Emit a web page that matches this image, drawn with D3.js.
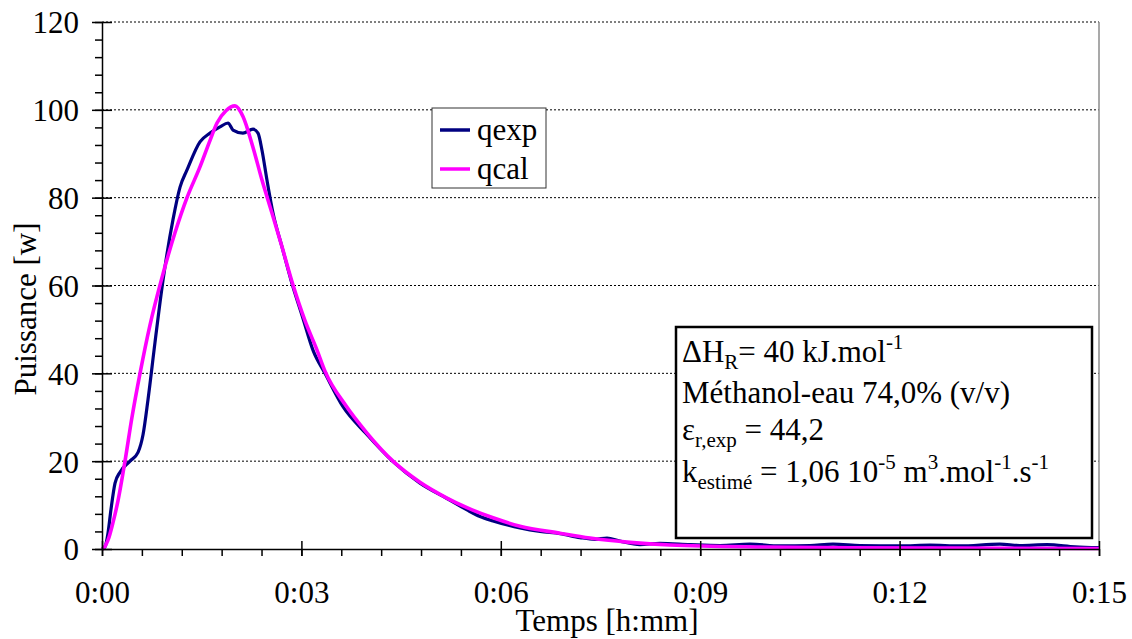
<!DOCTYPE html>
<html>
<head>
<meta charset="utf-8">
<script src="https://cdn.jsdelivr.net/npm/d3@7"></script>
<style>
  html, body { margin: 0; padding: 0; background: #fff; }
  svg { display: block; }
  svg text { font-family: "Liberation Serif", "Times New Roman", Times, serif; }
</style>
</head>
<body>
<svg id="chart" width="1132" height="639"></svg>
<script>
// ---- data (time in minutes, power in W) ----
const qexpTime = [0.000,0.045,0.090,0.135,0.196,0.271,0.421,0.542,0.617,0.692,0.797,0.918,1.068,1.174,1.279,1.474,1.625,1.775,1.896,1.971,2.121,2.272,2.347,2.407,2.482,2.573,2.708,2.844,3.024,3.174,3.355,3.626,3.972,4.378,4.784,5.190,5.491,5.687,5.883,6.289,6.590,6.891,7.191,7.417,7.598,7.793,8.094,8.395,8.847,9.298,9.749,10.200,10.652,10.998,11.404,12.006,12.457,12.908,13.510,13.811,14.218,14.639,15.000];
const qexpValues = [0,0.5,3.6,9,15,17.5,20,22,26,34,47,61.2,75,82.4,86.3,92.7,94.7,96.1,97,95.4,94.7,95.6,94.7,90.8,84,76.5,68.8,61.2,52.5,45.3,40,32.4,26.3,19.9,15,11.5,8.9,7.4,6.4,4.8,4.0,3.5,2.6,2.2,2.5,1.8,1.0,1.3,1.0,0.8,1.1,0.7,0.8,1.1,0.8,0.7,0.9,0.7,1.1,0.8,1.0,0.5,0.3];
const qcalTime = [0.000,0.030,0.090,0.165,0.241,0.346,0.451,0.572,0.722,0.888,1.098,1.279,1.474,1.624,1.730,1.865,2.001,2.121,2.271,2.407,2.557,2.708,2.874,3.054,3.235,3.355,3.671,3.987,4.378,4.784,5.190,5.491,5.883,6.289,6.891,7.342,7.944,8.546,9.900,11.254,12.758,15.000];
const qcalValues = [0,0.3,2,6,11,20,30,40,51,61,72,80,87,93,97,99.8,100.9,98.5,91.5,84,76.5,68.8,60.1,52,45.3,40.5,32.6,26.4,20,15.2,11.6,9.4,7.1,5.2,3.6,2.5,1.5,0.9,0.45,0.3,0.2,0.1];
const xTickMinutes = [0,3,6,9,12,15];
const xTickLabels = ["0:00","0:03","0:06","0:09","0:12","0:15"];
const yTickValues = [0,20,40,60,80,100,120];
const seriesNames = ["qexp","qcal"];
const seriesColors = ["#000080","#FF00FF"];
const xTitle = "Temps [h:mm]";
const yTitle = "Puissance [w]";

// ---- layout ----
const FF = "'Liberation Serif', 'Times New Roman', Times, serif";
const svg = d3.select("#chart").attr("font-family", FF);
const x = d3.scaleLinear().domain([0,15]).range([102,1099]);
const y = d3.scaleLinear().domain([0,120]).range([549,22]);
const FONT = 31;

// gridlines (dotted)
svg.append("g").selectAll("line").data(yTickValues.filter(d => d > 0)).join("line")
  .attr("x1", x(0)).attr("x2", x(15))
  .attr("y1", d => y(d)).attr("y2", d => y(d))
  .attr("stroke", "#000").attr("stroke-width", 1).attr("stroke-dasharray", "2,2");

// right border (grey)
svg.append("line").attr("x1", x(15)).attr("x2", x(15)).attr("y1", y(120)).attr("y2", y(0))
  .attr("stroke", "#8c8c8c").attr("stroke-width", 1.5);

// series
const line = d3.line().x(d => x(d[0])).y(d => y(d[1])).curve(d3.curveMonotoneX);
const qexp = qexpTime.map((t,i) => [t, qexpValues[i]]);
const qcal = qcalTime.map((t,i) => [t, qcalValues[i]]);
svg.append("path").datum(qexp).attr("d", line).attr("fill","none")
  .attr("stroke", seriesColors[0]).attr("stroke-width", 3.2).attr("stroke-linejoin","round");
svg.append("path").datum(qcal).attr("d", line).attr("fill","none")
  .attr("stroke", seriesColors[1]).attr("stroke-width", 3.6).attr("stroke-linejoin","round");

// X axis
const xMinor = d3.range(0, 15.001, 0.6);
const gx = svg.append("g").attr("transform", `translate(0,${y(0)})`);
gx.call(d3.axisBottom(x).tickValues(xMinor).tickSize(7).tickFormat("").tickSizeOuter(0));
gx.call(g => g.select(".domain").remove());
const gx2 = svg.append("g").attr("transform", `translate(0,${y(0)})`);
gx2.call(d3.axisBottom(x).tickValues(xTickMinutes).tickSizeInner(-8).tickSizeOuter(0)
  .tickFormat((d,i) => xTickLabels[i]));
gx2.attr("font-family", FF);
gx2.selectAll(".tick line").clone().attr("y2", 7);
gx2.selectAll("text").attr("y", 54).attr("dy", 0)
  .attr("font-size", FONT).attr("fill", "#000");

// Y axis
const yMinor = d3.range(0, 120.001, 4);
const gy = svg.append("g").attr("transform", `translate(${x(0)},0)`);
gy.call(d3.axisLeft(y).tickValues(yMinor).tickSize(7).tickFormat("").tickSizeOuter(0));
gy.call(g => g.select(".domain").remove());
const gy2 = svg.append("g").attr("transform", `translate(${x(0)},0)`);
gy2.call(d3.axisLeft(y).tickValues(yTickValues).tickSizeInner(10).tickSizeOuter(0));
gy2.attr("font-family", FF);
gy2.selectAll(".tick line").clone().attr("x2", 10);
gy2.selectAll("text").attr("x", -23).attr("dy", "0.35em")
  .attr("font-size", FONT).attr("fill", "#000");
svg.selectAll(".domain, .tick line").attr("stroke", "#000").attr("stroke-width", 1.5);

// axis titles
svg.append("text").attr("x", 607).attr("y", 631).attr("text-anchor", "middle")
  .attr("font-size", FONT).text(xTitle);
svg.append("text").attr("transform", "translate(36,309) rotate(-90)").attr("text-anchor", "middle")
  .attr("font-size", FONT).text(yTitle);

// legend
const lg = svg.append("g");
lg.append("rect").attr("x", 432).attr("y", 108).attr("width", 114).attr("height", 80)
  .attr("fill", "#fff").attr("stroke", "#333").attr("stroke-width", 1);
const legY = [130, 169];
seriesNames.forEach((n, i) => {
  lg.append("line").attr("x1", 440).attr("x2", 470).attr("y1", legY[i]).attr("y2", legY[i])
    .attr("stroke", seriesColors[i]).attr("stroke-width", 3.5);
  lg.append("text").attr("x", 477).attr("y", legY[i]).attr("dy", "0.33em")
    .attr("font-size", FONT).text(n);
});

// annotation box
const ab = svg.append("g");
ab.append("rect").attr("x", 676).attr("y", 327).attr("width", 416).attr("height", 211)
  .attr("fill", "#fff").attr("stroke", "#000").attr("stroke-width", 2.5);
const SUB = 21;
function richLine(yb, parts) {
  const t = ab.append("text").attr("x", 682).attr("y", yb).attr("font-size", FONT);
  let shift = 0;
  parts.forEach(p => {
    const target = p.sub ? 7 : (p.sup ? -13 : 0);
    t.append("tspan").attr("dy", target - shift)
      .attr("font-size", (p.sub || p.sup) ? SUB : FONT).text(p.t);
    shift = target;
  });
}
richLine(362, [{t:"ΔH"},{t:"R", sub:true},{t:"= 40 kJ.mol"},{t:"-1", sup:true}]);
richLine(403, [{t:"Méthanol-eau 74,0% (v/v)"}]);
richLine(440, [{t:"ε"},{t:"r,exp", sub:true},{t:" = 44,2"}]);
richLine(482, [{t:"k"},{t:"estimé", sub:true},{t:" = 1,06 10"},{t:"-5", sup:true},{t:" m"},{t:"3", sup:true},
               {t:".mol"},{t:"-1", sup:true},{t:".s"},{t:"-1", sup:true}]);
</script>
</body>
</html>
